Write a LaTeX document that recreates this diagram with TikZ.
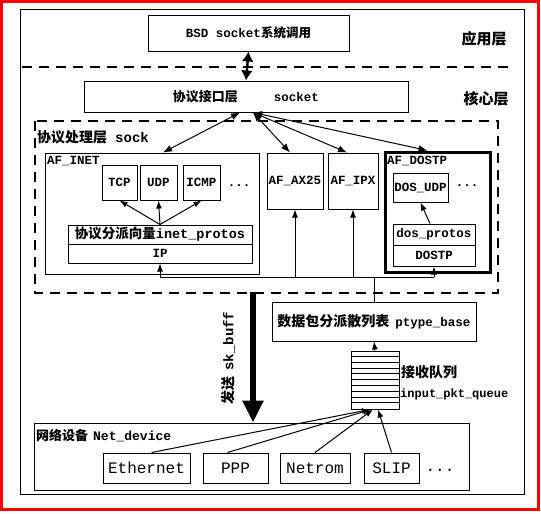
\documentclass[tikz,border=0pt]{standalone}
\usepackage{fontspec}
\setmainfont{Liberation Mono}
\newfontfamily\cjk{Noto Sans CJK SC}
\usetikzlibrary{arrows.meta}
\begin{document}
\begin{tikzpicture}[x=1pt,y=-1pt,
  box/.style={draw, line width=1pt, inner sep=0pt, font=\bfseries\fontsize{12.5}{14}\selectfont},
  dev/.style={box, minimum height=30pt, font=\fontsize{16}{18}\selectfont},
  txt/.style={inner sep=0pt, font=\bfseries\fontsize{12.5}{14}\selectfont},
  layer/.style={inner sep=0pt, font=\cjk\bfseries\fontsize{15}{16}\selectfont},
  arr/.style={-{Latex[length=8pt,width=6pt]}, line width=1pt},
  darr/.style={{Latex[length=9pt,width=7pt]}-{Latex[length=9pt,width=7pt]}, line width=1pt},
  dsh/.style={dash pattern=on 10pt off 7pt, line width=1.2pt}]
\useasboundingbox (0,0) rectangle (541,514);
\fill[white] (0,0) rectangle (541,514);
\draw[red, line width=3pt] (1.5,1.5) rectangle (538.5,509.5);
\draw[line width=1pt] (20,9) rectangle (524,494);

% application layer
\node[box, minimum width=201pt, minimum height=36pt] (bsd) at (248.5,33) {BSD socket{\cjk 系统调用}};
\node[layer] (app) at (484,39) {应用层};
\draw[dsh] (22,67) -- (512,67);

% socket layer
\node[box, minimum width=324pt, minimum height=31pt] (sock) at (246,96.5) {{\cjk\fontsize{13}{14}\selectfont 协议接口层}\hspace{36pt}socket};
\node[layer] (kern) at (486,99) {核心层};
\draw[{Latex[length=10pt,width=12pt]}-{Latex[length=10pt,width=12pt]}, line width=2.4pt] (bsd.south) -- (sock.north);

% protocol processing layer
\draw[dsh] (35,121) rectangle (498,293);
\node[txt, anchor=west, font=\bfseries\fontsize{14}{15}\selectfont] (plab) at (37,137) {{\cjk 协议处理层}\hspace{8pt}sock};

% AF_INET
\node[box, minimum width=214pt, minimum height=121pt] (inet) at (152,213.5) {};
\node[txt, anchor=north west] (inetl) at (47,156) {AF\_INET};
\node[box, minimum width=35pt, minimum height=35pt] (tcp) at (119.5,182.5) {TCP};
\node[box, minimum width=37pt, minimum height=35pt] (udp) at (158.5,182.5) {UDP};
\node[box, minimum width=37pt, minimum height=35pt] (icmp) at (201.5,182.5) {ICMP};
\node[txt] (idots) at (239,186) {...};
\node[box, minimum width=184pt, minimum height=19pt] (inetp) at (160,234.5) {{\cjk\fontsize{13.5}{14}\selectfont 协议分派向量}{\fontsize{13.5}{14}\selectfont inet\_protos}};
\node[box, minimum width=184pt, minimum height=19pt] (ip) at (160,253.5) {IP};
\draw[arr] (inetp.north) -- (tcp.south);
\draw[arr] (inetp.north) -- (udp.south);
\draw[arr] (inetp.north) -- (icmp.south);

% AF_AX25, AF_IPX
\node[box, minimum width=56pt, minimum height=56pt] (ax) at (295,181) {AF\_AX25};
\node[box, minimum width=50pt, minimum height=56pt] (ipx) at (353,181) {AF\_IPX};

% AF_DOSTP
\node[draw, line width=3pt, inner sep=0pt, minimum width=105pt, minimum height=120pt] (dostp) at (437.5,212) {};
\node[txt, anchor=north west] (dostpl) at (387,156) {AF\_DOSTP};
\node[box, minimum width=55pt, minimum height=29pt] (dudp) at (420.5,187.5) {DOS\_UDP};
\node[txt] (ddots) at (467,186) {...};
\node[box, minimum width=82pt, minimum height=21pt] (dosp) at (434,234.5) {dos\_protos};
\node[box, minimum width=82pt, minimum height=21pt] (dosr) at (434,255.5) {DOSTP};
\draw[arr] ([xshift=-4pt]dosp.north) -- (dudp.south);

% arrows to socket layer
\coordinate (sA) at ([xshift=-6pt]sock.south);
\coordinate (sB) at ([xshift=7pt]sock.south);
\draw[darr] ([xshift=11pt]inet.north) -- (sA);
\draw[darr] (sB) -- ([xshift=-5pt]ax.north);
\draw[darr] (sB) -- ([xshift=-6pt]ipx.north);
\draw[darr] (sB) -- ([xshift=-10pt]dostp.north);

% packet dispatch
\node[box, minimum width=204pt, minimum height=39pt] (ptype) at (374,321.5) {{\cjk\fontsize{14}{15}\selectfont 数据包分派散列表}\hspace{6pt}ptype\_base};
\coordinate (d1) at (160,277);
\coordinate (d4) at (434,277);
\draw[line width=1pt] (d1) -- (d4);
\draw[line width=1pt] (ptype.north) -- (ptype.north |- d1);
\draw[arr] (d1) -- (ip.south);
\draw[arr] (ax.south |- d1) -- (ax.south);
\draw[arr] (ipx.south |- d1) -- (ipx.south);
\draw[arr] (d4) -- (dosr.south);

% receive queue
\node[box, minimum width=48pt, minimum height=58pt] (q) at (375,380) {};
\foreach \i in {1,...,9} \draw[line width=0.7pt] ([yshift=-\i*5.8pt]q.north west) -- ([yshift=-\i*5.8pt]q.north east);
\draw[arr] (q.north) -- (ptype.south);
\node[txt, anchor=west, font=\cjk\bfseries\fontsize{14}{15}\selectfont] (ql1) at (401,372) {接收队列};
\node[txt, anchor=west, font=\bfseries\fontsize{12}{13}\selectfont] (ql2) at (400,394) {input\_pkt\_queue};

% send arrow
\coordinate (skt) at (253,292);
\node[rotate=90, inner sep=0pt, font=\bfseries\fontsize{14}{15}\selectfont] (skl) at (228,358) {{\cjk 发送}\hspace{6pt}sk\_buff};

% network devices
\node[box, minimum width=435pt, minimum height=67pt] (netdev) at (251.5,456.5) {};
\node[txt, anchor=west, font=\bfseries\fontsize{13}{14}\selectfont] (ndl) at (36,436) {{\cjk 网络设备}\hspace{5pt}Net\_device};
\draw[line width=5.5pt, -{Triangle[length=22pt,width=20pt]}] (skt) -- (netdev.north -| skt);
\node[dev, minimum width=87pt] (eth) at (146.5,468) {Ethernet};
\node[dev, minimum width=65pt] (ppp) at (235.5,468) {PPP};
\node[dev, minimum width=70pt] (netrom) at (315,468) {Netrom};
\node[dev, minimum width=55pt] (slip) at (391.5,468) {SLIP};
\node[txt, font=\fontsize{16}{18}\selectfont] (ndots) at (440,470) {...};
\draw[arr] ([xshift=5pt]eth.north) -- ([xshift=-5pt]q.south);
\draw[arr] ([xshift=-8pt]ppp.north) -- ([xshift=-4pt]q.south);
\draw[arr] (netrom.north) -- ([xshift=-2pt]q.south);
\draw[arr] (slip.north) -- ([xshift=3pt]q.south);
\end{tikzpicture}
\end{document}
